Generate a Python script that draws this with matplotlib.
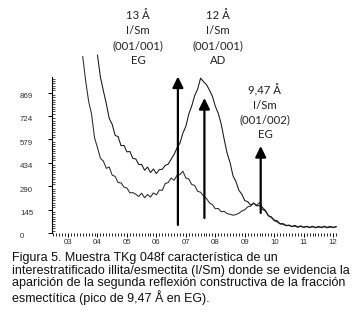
import numpy as np
import matplotlib
matplotlib.use("Agg")
import matplotlib.pyplot as plt
from matplotlib.transforms import ScaledTranslation

# Diffractogram data (degrees 2-theta, counts)
two_theta = [3.5, 3.6, 3.7, 3.8, 3.9, 4.0, 4.1, 4.2, 4.3, 4.4, 4.5, 4.6, 4.7, 4.8, 4.9,
             5.0, 5.1, 5.2, 5.3, 5.4, 5.5, 5.6, 5.7, 5.8, 5.9, 6.0, 6.1, 6.2, 6.3, 6.4,
             6.5, 6.6, 6.7, 6.8, 6.9, 7.0, 7.1, 7.2, 7.3, 7.4, 7.5, 7.6, 7.7, 7.8, 7.9,
             8.0, 8.1, 8.2, 8.3, 8.4, 8.5, 8.6, 8.7, 8.8, 8.9, 9.0, 9.1, 9.2, 9.3, 9.4,
             9.5, 9.6, 9.7, 9.8, 9.9, 10.0, 10.1, 10.2, 10.3, 10.4, 10.5, 10.6, 10.7, 10.8,
             10.9, 11.0, 11.1, 11.2, 11.3, 11.4, 11.5, 11.6, 11.7, 11.8, 11.9, 12.0, 12.1]

# Ethylene-glycol solvated sample (EG)
counts_eg = [1091, 940, 815, 735, 590, 528, 462, 445, 400, 408, 358, 350, 312, 310, 284,
             278, 248, 250, 240, 226, 246, 218, 238, 222, 248, 236, 266, 264, 306, 312,
             340, 326, 356, 362, 382, 340, 334, 300, 294, 258, 252, 228, 214, 186, 176,
             150, 152, 132, 134, 120, 116, 110, 114, 122, 136, 144, 162, 166, 186, 172,
             188, 158, 140, 108, 96, 76, 68, 56, 54, 45, 47, 39, 43, 35,
             41, 34, 39, 33, 38, 32, 37, 33, 39, 32, 37, 33, 38]

# Air-dried sample (AD), recorded from 4.0 degrees
two_theta_ad = two_theta[5:]
counts_ad = [1100, 965, 880, 800, 708, 672, 604, 596, 540, 542,
             502, 504, 462, 458, 424, 424, 388, 408, 374, 396, 368, 392, 394, 418, 426,
             456, 486, 526, 556, 618, 660, 736, 786, 850, 890, 958, 936, 918, 884, 846,
             784, 740, 674, 580, 494, 436, 354, 318, 264, 240, 200, 194, 172, 184, 168,
             170, 146, 136, 106, 100, 80, 76, 57, 58, 47, 49, 41, 47, 38,
             44, 36, 42, 35, 42, 34, 41, 35, 42, 35, 41, 35, 40]

# Axis ticks
y_ticks = [0, 144.8, 289.6, 434.4, 579.2, 724.0, 868.8]
y_tick_labels = ["0", "145", "290", "434", "579", "724", "869"]
x_ticks = [3, 4, 5, 6, 7, 8, 9, 10, 11, 12]
x_tick_labels = ["03", "04", "05", "06", "07", "08", "09", "10", "11", "12"]

# Reflection markers: position, arrow tip, arrow base
peak_pos = [6.73, 7.63, 9.54]
peak_tip = [968, 835, 538]
peak_base = [50, 93, 124]
peak_labels = ["13 Å\nI/Sm\n(001/001)\nEG",
               "12 Å\nI/Sm\n(001/001)\nAD",
               "9,47 Å\nI/Sm\n(001/002)\nEG"]

caption = ("Figura 5. Muestra TKg 048f característica de un\n"
           "interestratificado illita/esmectita (I/Sm) donde se evidencia la\n"
           "aparición de la segunda reflexión constructiva de la fracción\n"
           "esmectítica (pico de 9,47 Å en EG).")

W, H = 353, 322
fig = plt.figure(figsize=(W / 100, H / 100), dpi=100)
fig.patch.set_facecolor("white")

ax = fig.add_axes([52 / W, 1 - 233 / H, (337 - 52) / W, (233 - 77) / H])
ax.set_xlim(2.457, 12.13)
ax.set_ylim(0, 965)

ax.plot(two_theta, counts_eg, color="#2a2a2a", lw=0.75, clip_on=False)
ax.plot(two_theta_ad, counts_ad, color="#151515", lw=0.75, clip_on=False)

for s in ("top", "right", "bottom"):
    ax.spines[s].set_visible(False)
ax.spines["left"].set_linewidth(0.8)

ax.set_yticks(y_ticks)
ax.set_yticklabels(y_tick_labels)
ax.set_yticks(np.arange(0, 965, 14.48), minor=True)
ax.set_xticks(x_ticks)
ax.set_xticklabels(x_tick_labels)
ax.set_xticks(np.arange(2.5, 12.15, 0.1), minor=True)

ax.tick_params(axis="y", which="major", direction="out", length=3, width=0.7,
               pad=20, labelsize=5.7, labelcolor="#333333")
ax.tick_params(axis="y", which="minor", direction="in", length=2, width=0.5)
ax.tick_params(axis="x", which="major", direction="out", length=3, width=0.7,
               pad=1.5, labelsize=5.7, labelcolor="#333333")
ax.tick_params(axis="x", which="minor", direction="out", length=2, width=0.6)

shift = ScaledTranslation(0, -3 / 100, fig.dpi_scale_trans)
for lab in ax.get_yticklabels():
    lab.set_horizontalalignment("left")
    lab.set_transform(lab.get_transform() + shift)
for lab in ax.get_xticklabels() + ax.get_yticklabels():
    lab.set_family("Liberation Sans")

for x, tip, base in zip(peak_pos, peak_tip, peak_base):
    ax.annotate("", xy=(x, tip), xytext=(x, base), annotation_clip=False,
                arrowprops=dict(arrowstyle="-|>,head_width=0.32,head_length=0.65",
                                lw=1.6, color="black", shrinkA=0, shrinkB=0,
                                mutation_scale=10))

label_xy = [(138, 38), (218, 38), (265, 112)]
for (px, py), txt in zip(label_xy, peak_labels):
    fig.text(px / W, 1 - py / H, txt, ha="center", va="center", fontsize=8.2,
             family="Lato", color="#222222", linespacing=1.42)

fig.text(12 / W, 1 - 252 / H, caption, ha="left", va="top", fontsize=9.0,
         family="Liberation Sans", color="#111111", linespacing=1.08)

fig.savefig("out.png", dpi=100)
